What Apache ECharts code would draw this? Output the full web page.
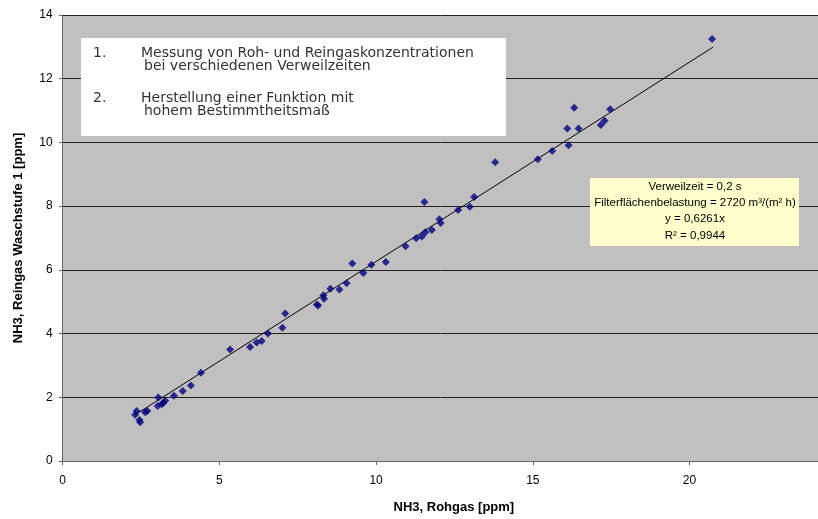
<!DOCTYPE html>
<html>
<head>
<meta charset="utf-8">
<script src="https://cdn.jsdelivr.net/npm/echarts@6/dist/echarts.min.js"></script>
<style>html,body{margin:0;padding:0;background:#fff}#c{width:818px;height:519px}</style>
</head>
<body>
<div id="c"></div>
<script>
const rohgas = [2.31,2.36,2.45,2.47,2.63,2.70,3.03,3.05,3.16,3.21,3.27,3.55,3.83,4.09,4.41,5.34,5.98,6.19,6.35,6.55,7.01,7.10,8.11,8.15,8.32,8.34,8.54,8.83,9.06,9.24,9.59,9.85,10.31,10.94,11.28,11.46,11.54,11.57,11.78,12.02,12.06,12.62,12.99,13.13,13.80,15.16,15.62,16.10,16.14,16.32,16.46,17.17,17.29,17.47,20.72];
const reingas = [1.45,1.57,1.29,1.22,1.53,1.57,1.73,1.99,1.78,1.83,1.89,2.05,2.20,2.37,2.77,3.50,3.58,3.72,3.77,4.00,4.18,4.63,4.91,4.88,5.20,5.09,5.41,5.38,5.58,6.20,5.90,6.16,6.25,6.74,6.99,7.05,8.13,7.18,7.25,7.59,7.47,7.88,7.98,8.29,9.38,9.47,9.73,10.44,9.91,11.09,10.44,10.55,10.68,11.04,13.25];
const trendX = [2.31, 20.75];
const trendY = [1.45, 12.99];
const xTicks = [0,5,10,15,20];
const yTicks = [0,2,4,6,8,10,12,14];
const noteLines = ['1.', 'Messung von Roh- und Reingaskonzentrationen', 'bei verschiedenen Verweilzeiten', '2.', 'Herstellung einer Funktion mit', 'hohem Bestimmtheitsmaß'];
const statLines = ['Verweilzeit = 0,2 s', 'Filterflächenbelastung = 2720 m³/(m² h)', 'y = 0,6261x', 'R² = 0,9944'];

const chart = echarts.init(document.getElementById('c'), null, {renderer:'canvas'});
const pts = rohgas.map((x,i)=>[x, reingas[i]]);
const trend = trendX.map((x,i)=>[x, trendY[i]]);
const noteFont = '14px "DejaVu Sans"';
const statFont = '11.5px "Liberation Sans"';
chart.setOption({
  animation:false,
  backgroundColor:'#fff',
  textStyle:{fontFamily:'"Liberation Sans", Arial, sans-serif'},
  grid:{left:62.7, top:15, bottom:56, right:0, show:true, backgroundColor:'#C0C0C0', borderWidth:0},
  xAxis:{type:'value', min:0, max:24.1, interval:5,
    name:'NH3, Rohgas [ppm]', nameLocation:'middle', nameGap:40,
    nameTextStyle:{fontWeight:'bold', fontSize:13, color:'#000', padding:[0,0,0,27]},
    axisLine:{lineStyle:{color:'#666'}}, axisTick:{length:4, lineStyle:{color:'#666'}},
    axisLabel:{fontSize:12, color:'#000', margin:14, showMaxLabel:false, formatter:v=>xTicks.includes(v)?String(v):''},
    splitLine:{show:false}},
  yAxis:{type:'value', min:0, max:14, interval:2,
    name:'NH3, Reingas Waschstufe 1 [ppm]', nameLocation:'middle', nameGap:38,
    nameTextStyle:{fontWeight:'bold', fontSize:13, color:'#000'},
    axisLine:{show:true, lineStyle:{color:'#666'}}, axisTick:{show:true, length:4, lineStyle:{color:'#666'}},
    axisLabel:{fontSize:12, color:'#000', margin:10, formatter:v=>yTicks.includes(v)?String(v):''},
    splitLine:{show:true, lineStyle:{color:'#222', width:1}}},
  series:[
    {type:'line', data:trend, symbol:'none', lineStyle:{color:'#000', width:1}, z:3},
    {type:'scatter', data:pts, symbol:'diamond', symbolSize:8, itemStyle:{color:'#000080'}, z:4}
  ],
  graphic:[
    {type:'rect', shape:{x:81, y:38, width:425, height:98}, style:{fill:'#fff'}, z:10},
    {type:'text', x:93, y:53.3, style:{text:noteLines[0], font:noteFont, fill:'#333', textVerticalAlign:'middle'}, z:11},
    {type:'text', x:141, y:53.3, style:{text:noteLines[1], font:noteFont, fill:'#333', textVerticalAlign:'middle'}, z:11},
    {type:'text', x:144, y:66.7, style:{text:noteLines[2], font:noteFont, fill:'#333', textVerticalAlign:'middle'}, z:11},
    {type:'text', x:93, y:98.3, style:{text:noteLines[3], font:noteFont, fill:'#333', textVerticalAlign:'middle'}, z:11},
    {type:'text', x:141, y:98.3, style:{text:noteLines[4], font:noteFont, fill:'#333', textVerticalAlign:'middle'}, z:11},
    {type:'text', x:144, y:111.7, style:{text:noteLines[5], font:noteFont, fill:'#333', textVerticalAlign:'middle'}, z:11},
    {type:'rect', shape:{x:590, y:178, width:209, height:68}, style:{fill:'#FFFFCC'}, z:10},
    {type:'text', x:695, y:187.3, style:{text:statLines[0], font:statFont, fill:'#000', textAlign:'center', textVerticalAlign:'middle'}, z:11},
    {type:'text', x:695, y:203.3, style:{text:statLines[1], font:statFont, fill:'#000', textAlign:'center', textVerticalAlign:'middle'}, z:11},
    {type:'text', x:695, y:219.3, style:{text:statLines[2], font:statFont, fill:'#000', textAlign:'center', textVerticalAlign:'middle'}, z:11},
    {type:'text', x:695, y:235.7, style:{text:statLines[3], font:statFont, fill:'#000', textAlign:'center', textVerticalAlign:'middle'}, z:11}
  ]
});
</script>
</body>
</html>
